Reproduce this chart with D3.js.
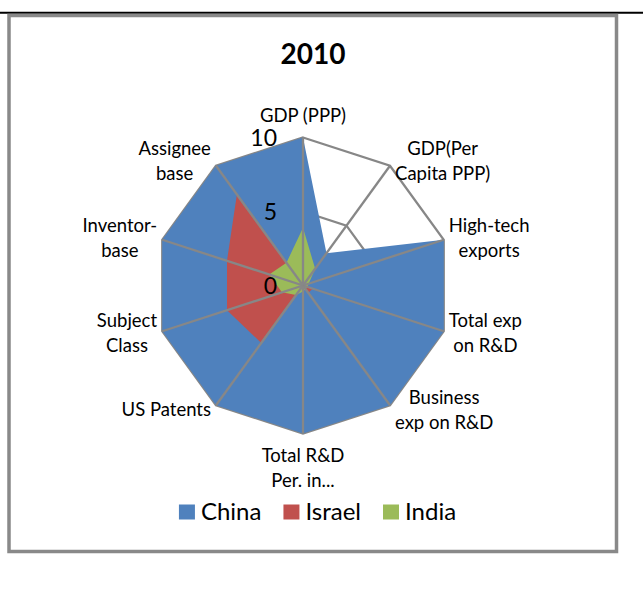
<!DOCTYPE html>
<head>
    <meta charset="utf-8">
    <title>2010 radar</title>
    <script type="text/javascript" src="https://d3js.org/d3.v7.min.js"></script>
    <style>
        body { margin: 0; background: #fff; }
        text { font-family: Lato, "Open Sans", sans-serif; fill: #000; }
    </style>
</head>
<body>
<div id="container"></div>
<script>
    //-----------------------------DATA------------------------------//
    const categories = ["GDP (PPP)", "GDP(Per Capita PPP)", "High-tech exports",
        "Total exp on R&D", "Business exp on R&D", "Total R&D Per. in...",
        "US Patents", "Subject Class", "Inventor-base", "Assignee base"];
    // how the labels wrap in the picture
    const labelLines = [["GDP (PPP)"], ["GDP(Per", "Capita PPP)"], ["High-tech", "exports"],
        ["Total exp", "on R&D"], ["Business", "exp on R&D"], ["Total R&D", "Per. in..."],
        ["US Patents"], ["Subject", "Class"], ["Inventor-", "base"], ["Assignee", "base"]];
    const seriesNames = ["China", "Israel", "India"];
    const china  = [10, 2.7, 10, 10, 10, 10, 10, 10, 10, 10];
    const israel = [0, 0.3, 0.2, 0.7, 0.6, 0, 4.8, 5.4, 5.4, 7.6];
    const india  = [3.9, 1.4, 0.4, 0.3, 0.3, 0.4, 0.8, 1.5, 2.4, 1.9];
    const tickValues = [0, 5, 10];
    const gridValues = [5, 10];
    const title = "2010";

    //-----------------------------SVG-------------------------------//
    const width = 643;
    const height = 612;
    const cx = 303;
    const cy = 285.5;
    const radius = 148;
    const colors = ["#4F81BD", "#C0504D", "#9BBB59"];
    const gridColor = "#878787";

    const svg = d3.select("div#container").append("svg")
        .attr("width", width)
        .attr("height", height);

    // black rule along the top and the grey chart frame
    svg.append("line")
        .attr("x1", 0).attr("x2", width)
        .attr("y1", 12.8).attr("y2", 12.8)
        .attr("stroke", "#000").attr("stroke-width", 2);
    svg.append("rect")
        .attr("x", 9).attr("y", 15.5)
        .attr("width", 607.5).attr("height", 536)
        .attr("fill", "#fff")
        .attr("stroke", "#898989").attr("stroke-width", 3.5);

    svg.append("text")
        .attr("x", 313).attr("y", 54)
        .attr("dy", "0.35em")
        .attr("text-anchor", "middle")
        .style("font-size", "28px").style("font-weight", "bold")
        .text(title);

    //----------------------------SCALES-----------------------------//
    const n = categories.length;
    const rScale = d3.scaleLinear().domain([0, 10]).range([0, radius]);
    const angle = i => i * 2 * Math.PI / n;

    const radar = d3.lineRadial()
        .angle((d, i) => angle(i))
        .radius(d => rScale(d))
        .curve(d3.curveLinearClosed);

    const chart = svg.append("g")
        .attr("transform", "translate(" + cx + "," + cy + ")");

    //-----------------------------GRID------------------------------//
    // rings sit behind the filled series
    chart.selectAll(".grid")
        .data(gridValues)
        .enter()
        .append("path")
        .attr("class", "grid")
        .attr("d", v => radar(categories.map(() => v)))
        .attr("fill", "none")
        .attr("stroke", gridColor)
        .attr("stroke-width", 2.3);

    //----------------------------AREAS------------------------------//
    const series = [china, israel, india];
    chart.selectAll(".area")
        .data(series)
        .enter()
        .append("path")
        .attr("class", "area")
        .attr("d", d => radar(d))
        .attr("fill", (d, i) => colors[i]);

    // spokes are drawn over the fills
    chart.selectAll(".spoke")
        .data(categories)
        .enter()
        .append("line")
        .attr("class", "spoke")
        .attr("x1", 0).attr("y1", 0)
        .attr("x2", (d, i) => rScale(10) * Math.sin(angle(i)))
        .attr("y2", (d, i) => -rScale(10) * Math.cos(angle(i)))
        .attr("stroke", gridColor)
        .attr("stroke-width", 2.3);

    // value ticks along the first axis
    chart.selectAll(".tick")
        .data(tickValues)
        .enter()
        .append("text")
        .attr("class", "tick")
        .attr("x", -26)
        .attr("y", d => -rScale(d))
        .attr("dy", "0.38em")
        .attr("text-anchor", "end")
        .style("font-size", "23px")
        .text(d => d);

    //----------------------------LABELS-----------------------------//
    const lineH = 25;
    const labels = chart.selectAll(".label")
        .data(labelLines)
        .enter()
        .append("text")
        .attr("class", "label")
        .attr("text-anchor", "middle")
        .style("font-size", "18.5px");

    labels.selectAll("tspan")
        .data(d => d)
        .enter()
        .append("tspan")
        .attr("x", 0)
        .attr("y", (d, j, nodes) => (j - (nodes.length - 1) / 2) * lineH)
        .attr("dy", "0.35em")
        .text(d => d);

    labels.attr("transform", function(d, i) {
        const a = angle(i);
        const s = Math.sin(a), c = Math.cos(a);
        const vx = rScale(10) * s;
        const vy = -rScale(10) * c;
        const w = this.getBBox().width;
        let x = vx, y = vy - 5.5 * c;
        if (s > 0.1) x = vx + 5 + w / 2;
        else if (s < -0.1) x = vx - 5 - w / 2;
        else y = vy - c * (9.5 + d.length * lineH / 2);
        return "translate(" + x + "," + y + ")";
    });

    //----------------------------LEGEND-----------------------------//
    const legend = svg.append("g");
    const items = legend.selectAll("g")
        .data(seriesNames)
        .enter()
        .append("g");
    items.append("rect")
        .attr("width", 16).attr("height", 15)
        .attr("y", -7.5)
        .attr("fill", (d, i) => colors[i]);
    items.append("text")
        .attr("x", 22)
        .attr("dy", "0.35em")
        .style("font-size", "24px")
        .text(d => d);

    let pos = 0;
    items.attr("transform", function() {
        const t = "translate(" + pos + ",0)";
        pos += 22 + d3.select(this).select("text").node().getComputedTextLength() + 22;
        return t;
    });
    const legendW = pos - 22;
    legend.attr("transform", "translate(" + (317.5 - legendW / 2) + ",512)");
</script>
</body>
